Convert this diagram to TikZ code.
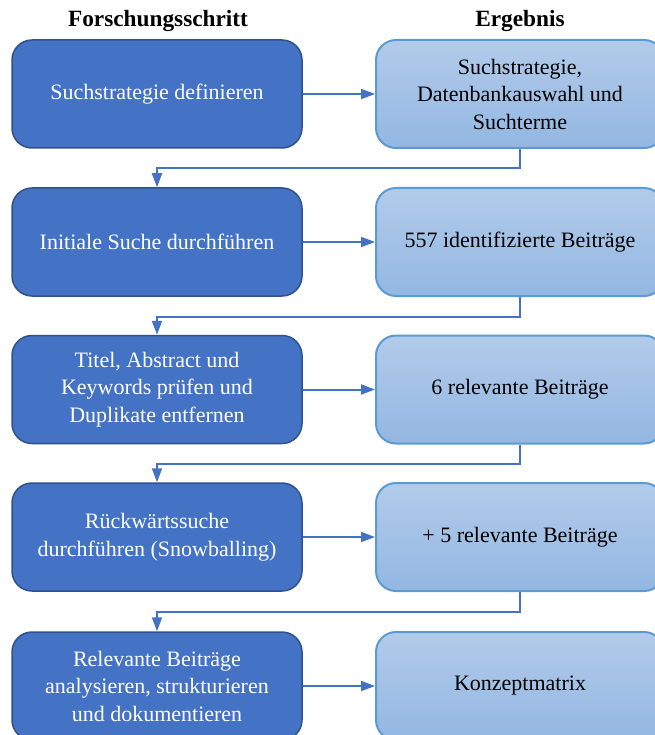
\documentclass[tikz,border=0pt]{standalone}
\usepackage{fontspec}
\setmainfont{Liberation Serif}
\usetikzlibrary{arrows.meta}

\definecolor{schrittblau}{HTML}{4472C4}
\definecolor{schrittrand}{HTML}{2F528F}
\definecolor{ergebnisoben}{HTML}{B2CBEA}
\definecolor{ergebnisunten}{HTML}{93B7E2}
\definecolor{ergebnisrand}{HTML}{5B9BD5}

\begin{document}
\begin{tikzpicture}[x=1pt, y=-1pt,
	schritt/.style={rectangle, rounded corners=20pt, draw=schrittrand, line width=1.5pt,
		fill=schrittblau, text=white, minimum width=290pt, minimum height=108pt,
		align=center, font=\fontsize{22}{27.5}\selectfont},
	ergebnis/.style={rectangle, rounded corners=20pt, draw=ergebnisrand, line width=2pt,
		top color=ergebnisoben, bottom color=ergebnisunten, text=black,
		minimum width=288pt, minimum height=108pt,
		align=center, font=\fontsize{22}{27.5}\selectfont},
	kopf/.style={font=\bfseries\fontsize{23.3}{28}\selectfont},
	pfeil/.style={-{Triangle[length=14pt, width=10pt]}, line width=2pt, draw=schrittblau}]
	\useasboundingbox (0,0) rectangle (654,735);
	
	% Spaltenkoepfe
	\node[kopf] (kopfSchritt) at (158,21) {Forschungsschritt};
	\node[kopf] (kopfErgebnis) at (520,21) {Ergebnis};
	
	% Forschungsschritte (links)
	\node[schritt] (s1) at (157,94) {Suchstrategie definieren};
	\node[schritt] (s2) at (157,242) {Initiale Suche durchführen};
	\node[schritt] (s3) at (157,389.5) {Titel, Abstract und\\Keywords prüfen und\\Duplikate entfernen};
	\node[schritt] (s4) at (157,537) {Rückwärtssuche\\durchführen (Snowballing)};
	\node[schritt] (s5) at (157,686) {Relevante Beiträge\\analysieren, strukturieren\\und dokumentieren};
	
	% Ergebnisse (rechts)
	\node[ergebnis] (e1) at (520,94) {Suchstrategie,\\Datenbankauswahl und\\Suchterme};
	\node[ergebnis] (e2) at (520,242) {557 identifizierte Beiträge};
	\node[ergebnis] (e3) at (520,389.5) {6 relevante Beiträge};
	\node[ergebnis] (e4) at (520,537) {+ 5 relevante Beiträge};
	\node[ergebnis] (e5) at (520,686) {Konzeptmatrix};
	
	% Pfeile Schritt -> Ergebnis
	\foreach \i in {1,...,5} {
		\draw[pfeil] (s\i.east) -- (e\i.west);
	}
	% Pfeile Ergebnis -> naechster Schritt
	\foreach \i/\j in {1/2, 2/3, 3/4, 4/5} {
		\draw[pfeil] (e\i.south) -- ++(0,19.5) -| (s\j.north);
	}
\end{tikzpicture}
\end{document}
